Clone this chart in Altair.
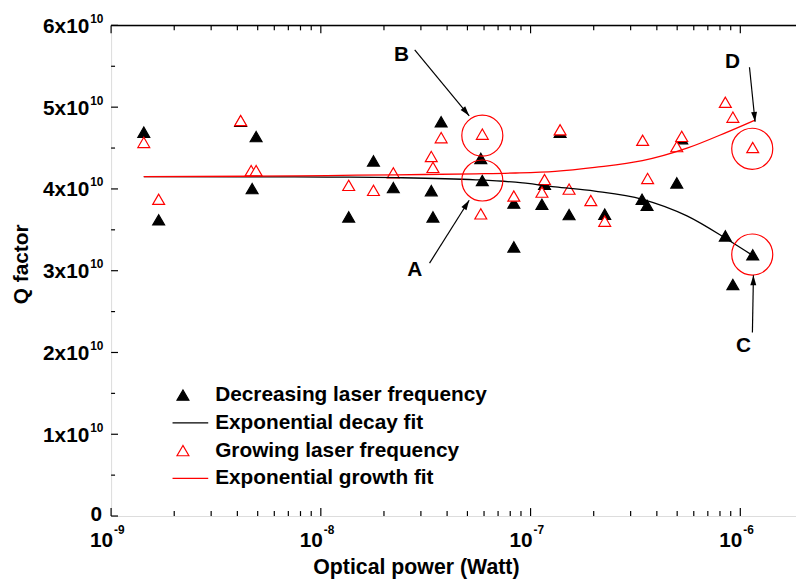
import altair as alt
import pandas as pd

FONT = "Liberation Sans"

series_names = ["Decreasing laser frequency", "Exponential decay fit",
                "Growing laser frequency", "Exponential growth fit"]

# Decreasing laser frequency (filled black triangles)
dec_power = [1.432e-9, 1.686e-9, 4.148e-9, 4.914e-9, 4.704e-9, 1.358e-8, 1.782e-8,
             2.216e-8, 3.362e-8, 3.424e-8, 3.747e-8, 5.790e-8, 5.888e-8, 8.322e-8,
             8.322e-8, 1.166e-7, 1.133e-7, 1.383e-7, 1.526e-7, 2.257e-7, 3.401e-7,
             3.592e-7, 4.978e-7, 5.256e-7, 8.484e-7, 9.216e-7, 1.146e-6]
dec_q = [4.694e10, 3.622e10, 4.827e10, 4.640e10, 4.004e10, 3.658e10, 4.343e10,
         4.016e10, 3.979e10, 3.658e10, 4.821e10, 4.373e10, 4.103e10, 3.828e10,
         3.291e10, 4.058e10, 3.812e10, 4.694e10, 3.686e10, 3.691e10, 3.873e10,
         3.800e10, 4.074e10, 4.615e10, 3.425e10, 2.831e10, 3.194e10]

# Growing laser frequency (open red triangles)
grow_power = [1.432e-9, 1.686e-9, 4.148e-9, 4.653e-9, 4.914e-9, 1.358e-8, 1.782e-8,
              2.216e-8, 3.362e-8, 3.424e-8, 3.747e-8, 5.888e-8, 5.790e-8, 8.322e-8,
              1.166e-7, 1.133e-7, 1.383e-7, 1.526e-7, 1.938e-7, 2.257e-7, 3.423e-7,
              3.615e-7, 4.978e-7, 5.256e-7, 8.484e-7, 9.216e-7, 1.146e-6]
grow_q = [4.569e10, 3.873e10, 4.837e10, 4.224e10, 4.224e10, 4.044e10, 3.983e10,
          4.197e10, 4.397e10, 4.264e10, 4.627e10, 4.670e10, 3.695e10, 3.913e10,
          4.115e10, 3.961e10, 4.724e10, 3.998e10, 3.858e10, 3.606e10, 4.595e10,
          4.128e10, 4.518e10, 4.643e10, 5.060e10, 4.878e10, 4.506e10]

# Fit curves
decay_fit_power = [1.432e-9, 4.489e-9, 1.072e-8, 2.297e-8, 5.484e-8, 8.478e-8,
                   1.310e-7, 2.024e-7, 3.413e-7, 5.568e-7, 8.605e-7, 1.146e-6]
decay_fit_q = [4.150e10, 4.148e10, 4.145e10, 4.138e10, 4.112e10, 4.082e10,
               4.025e10, 3.973e10, 3.873e10, 3.670e10, 3.388e10, 3.186e10]
growth_fit_power = [1.432e-9, 4.489e-9, 1.072e-8, 2.297e-8, 5.484e-8, 8.478e-8,
                    1.310e-7, 2.024e-7, 3.413e-7, 5.568e-7, 8.605e-7, 1.176e-6]
growth_fit_q = [4.151e10, 4.155e10, 4.164e10, 4.173e10, 4.185e10, 4.195e10,
                4.216e10, 4.264e10, 4.345e10, 4.498e10, 4.692e10, 4.842e10]

# Annotations A, B, C, D
ann_labels = ["A", "B", "C", "D"]
ann_label_power = [2.803e-8, 2.424e-8, 1.035e-6, 9.186e-7]
ann_label_q = [3.004e10, 5.633e10, 2.075e10, 5.548e10]
circle_power = [5.888e-8, 5.888e-8, 1.140e-6, 1.140e-6]
circle_q = [4.103e10, 4.652e10, 3.198e10, 4.491e10]
arrow_tail_power = [3.299e-8, 2.803e-8, 1.142e-6, 1.106e-6]
arrow_tail_q = [3.093e10, 5.702e10, 2.245e10, 5.488e10]
arrow_head_power = [5.099e-8, 5.099e-8, 1.155e-6, 1.176e-6]
arrow_head_q = [3.861e10, 4.894e10, 2.944e10, 4.821e10]
arrow_angle_deg = [32.2, 140.5, 1.0, 174.1]

# Axis ticks and labels
x_major = [1e-9, 1e-8, 1e-7, 1e-6]
x_major_exp = ["-9", "-8", "-7", "-6"]
x_minor = [2e-9, 3e-9, 4e-9, 5e-9, 6e-9, 7e-9, 8e-9, 9e-9,
           2e-8, 3e-8, 4e-8, 5e-8, 6e-8, 7e-8, 8e-8, 9e-8,
           2e-7, 3e-7, 4e-7, 5e-7, 6e-7, 7e-7, 8e-7, 9e-7]
y_major = [0, 1e10, 2e10, 3e10, 4e10, 5e10, 6e10]
y_major_base = ["0", "1x10", "2x10", "3x10", "4x10", "5x10", "6x10"]
y_major_exp = ["", "10", "10", "10", "10", "10", "10"]
y_minor = [0.5e10, 1.5e10, 2.5e10, 3.5e10, 4.5e10, 5.5e10]
x_title = ["Optical power (Watt)"]
y_title = ["Q factor"]

W, H = 691, 495
LINE_SHAPE = "M-4.25,0L4.25,0"

xscale = alt.Scale(type="log", domain=[1e-9, 1.843e-6], nice=False)
yscale = alt.Scale(domain=[0, 6e10], nice=False, zero=True)

xaxis = alt.Axis(ticks=False, labels=False, grid=False, domainColor="black",
                 domainWidth=1.5, title=None)
yaxis = alt.Axis(ticks=False, labels=False, grid=False, domainColor="black",
                 domainWidth=1.5, title=None)

pts = pd.DataFrame({
    "power": dec_power + grow_power,
    "q": dec_q + grow_q,
    "series": [series_names[0]] * len(dec_power) + [series_names[2]] * len(grow_power),
})
fits = pd.DataFrame({
    "power": decay_fit_power + growth_fit_power,
    "q": decay_fit_q + growth_fit_q,
    "series": [series_names[1]] * len(decay_fit_power) + [series_names[3]] * len(growth_fit_power),
})

legend = alt.Legend(title=None, orient="none", legendX=62, legendY=362.5,
                    direction="vertical", columns=1, clipHeight=21, rowPadding=6,
                    symbolStrokeWidth=1.2, symbolSize=144, labelFont=FONT, labelFontSize=21,
                    labelFontWeight="bold", labelColor="black", labelLimit=600,
                    labelOffset=22, padding=0, symbolOffset=0)

points = alt.Chart(pts).mark_point(filled=True, opacity=1, strokeWidth=1.2, size=144).encode(
    x=alt.X("power:Q", scale=xscale, axis=xaxis),
    y=alt.Y("q:Q", scale=yscale, axis=yaxis),
    shape=alt.Shape("series:N", scale=alt.Scale(domain=series_names,
                    range=["triangle-up", LINE_SHAPE, "triangle-up", LINE_SHAPE]), legend=legend),
    fill=alt.Fill("series:N", scale=alt.Scale(domain=series_names,
                  range=["black", "white", "white", "white"]), legend=legend),
    stroke=alt.Stroke("series:N", scale=alt.Scale(domain=series_names,
                      range=["black", "black", "red", "red"]), legend=legend),
)

lines = alt.Chart(fits).mark_line(strokeWidth=1.3, interpolate="monotone").encode(
    x=alt.X("power:Q", axis=None),
    y=alt.Y("q:Q", axis=None),
    stroke=alt.Stroke("series:N", legend=None),
)

circ_df = pd.DataFrame({"power": circle_power, "q": circle_q})
circles = alt.Chart(circ_df).mark_point(shape="circle", size=1714, filled=False,
                                         color="red", opacity=1, strokeWidth=1.2).encode(
    x=alt.X("power:Q", axis=None), y=alt.Y("q:Q", axis=None))

arr_df = pd.DataFrame({"x1": arrow_tail_power, "y1": arrow_tail_q,
                       "x2": arrow_head_power, "y2": arrow_head_q,
                       "ang": arrow_angle_deg})
arrow_lines = alt.Chart(arr_df).mark_rule(color="black", strokeWidth=1.2).encode(
    x=alt.X("x1:Q", axis=None), y=alt.Y("y1:Q", axis=None), x2="x2:Q", y2="y2:Q")
arrow_heads = alt.Chart(arr_df).mark_point(shape="M0,0L0.3,1L-0.3,1Z", size=400,
                                           filled=True, color="black", opacity=1).encode(
    x=alt.X("x2:Q", axis=None), y=alt.Y("y2:Q", axis=None),
    angle=alt.Angle("ang:Q", scale=None))

lab_df = pd.DataFrame({"power": ann_label_power, "q": ann_label_q, "t": ann_labels})
ann_text = alt.Chart(lab_df).mark_text(font=FONT, fontSize=21, fontWeight="bold",
                                       color="black", align="center", baseline="middle").encode(
    x=alt.X("power:Q", axis=None), y=alt.Y("q:Q", axis=None), text="t:N")

# ticks (inward)
xmaj_df = pd.DataFrame({"v": x_major, "e": x_major_exp})
xmin_df = pd.DataFrame({"v": x_minor})
ymaj_df = pd.DataFrame({"v": y_major, "b": y_major_base, "e": y_major_exp})
ymin_df = pd.DataFrame({"v": y_minor})

def xticks(df, length):
    bot = alt.Chart(df).mark_rule(color="black", strokeWidth=1.2).encode(
        x=alt.X("v:Q", axis=None), y=alt.value(H), y2=alt.value(H - length))
    top = alt.Chart(df).mark_rule(color="black", strokeWidth=1.2).encode(
        x=alt.X("v:Q", axis=None), y=alt.value(0), y2=alt.value(length))
    return [bot, top]

def yticks(df, length):
    return alt.Chart(df).mark_rule(color="black", strokeWidth=1.2).encode(
        y=alt.Y("v:Q", axis=None), x=alt.value(0), x2=alt.value(length))

top_frame = alt.Chart(pd.DataFrame({"a": [0]})).mark_rule(color="black", strokeWidth=1.5).encode(
    x=alt.value(0), x2=alt.value(W), y=alt.value(0))

x_lab_base = alt.Chart(xmaj_df).mark_text(font=FONT, fontSize=21, fontWeight="bold",
                                          color="black", align="right", baseline="alphabetic",
                                          dx=2).encode(
    x=alt.X("v:Q", axis=None), y=alt.value(H + 31), text=alt.value("10"))
x_lab_exp = alt.Chart(xmaj_df).mark_text(font=FONT, fontSize=12, fontWeight="bold",
                                         color="black", align="left", baseline="alphabetic",
                                         dx=3).encode(
    x=alt.X("v:Q", axis=None), y=alt.value(H + 18), text="e:N")

y_lab_base = alt.Chart(ymaj_df).transform_filter("datum.e != ''").mark_text(
    font=FONT, fontSize=21, fontWeight="bold", color="black", align="right",
    baseline="alphabetic", dx=-22, dy=7.5).encode(
    y=alt.Y("v:Q", axis=None), x=alt.value(0), text="b:N")
y_lab_exp = alt.Chart(ymaj_df).transform_filter("datum.e != ''").mark_text(
    font=FONT, fontSize=12, fontWeight="bold", color="black", align="left",
    baseline="alphabetic", dx=-21, dy=-2.5).encode(
    y=alt.Y("v:Q", axis=None), x=alt.value(0), text="e:N")
y_lab_zero = alt.Chart(ymaj_df).transform_filter("datum.e == ''").mark_text(
    font=FONT, fontSize=21, fontWeight="bold", color="black", align="right",
    baseline="alphabetic", dx=-9, dy=5).encode(
    y=alt.Y("v:Q", axis=None), x=alt.value(0), text="b:N")

x_title_mark = alt.Chart(pd.DataFrame({"t": x_title})).mark_text(
    font=FONT, fontSize=21.5, fontWeight="bold", color="black", align="center",
    baseline="alphabetic").encode(x=alt.value(308), y=alt.value(H + 58), text="t:N")
y_title_mark = alt.Chart(pd.DataFrame({"t": y_title})).mark_text(
    font=FONT, fontSize=21, fontWeight="bold", color="black", align="center",
    baseline="alphabetic", angle=270).encode(x=alt.value(-84), y=alt.value(241), text="t:N")

layers = [points, lines, circles, arrow_lines, arrow_heads, ann_text, top_frame,
          x_lab_base, x_lab_exp, y_lab_base, y_lab_exp, y_lab_zero,
          x_title_mark, y_title_mark,
          yticks(ymaj_df, 7), yticks(ymin_df, 4)] + xticks(xmaj_df, 8) + xticks(xmin_df, 5)

chart = alt.layer(*layers).properties(
    width=W, height=H,
    padding={"left": 104, "top": 15, "right": 0, "bottom": 62},
    autosize=alt.AutoSizeParams(type="none"),
).configure_view(stroke=None).configure(background="white")

chart.save("out.html", embed_options={"renderer": "svg", "actions": False})
